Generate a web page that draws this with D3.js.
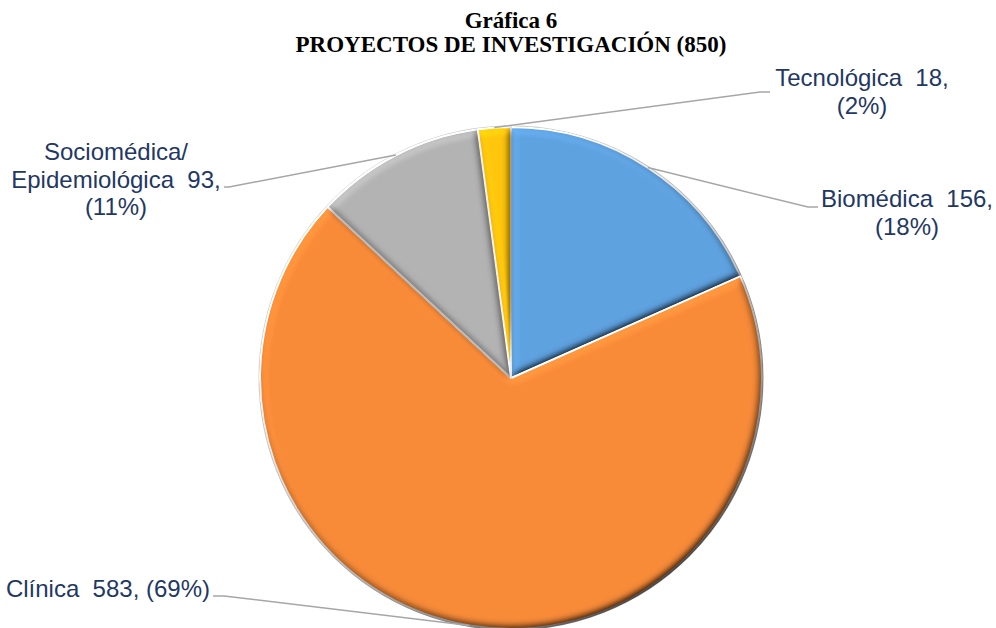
<!DOCTYPE html>
<html lang="es">
<head>
<meta charset="utf-8">
<title>Gráfica 6</title>
<script src="https://cdn.jsdelivr.net/npm/d3@7"></script>
<style>
  body { margin: 0; background: #fff; }
  .title { font-family: "Liberation Serif", "Times New Roman", serif; font-weight: bold; font-size: 23px; fill: #000; }
  .label { font-family: "Liberation Sans", Arial, sans-serif; font-size: 24px; fill: #1f3864; white-space: pre; }
  .leader { fill: none; stroke: #a6a6a6; stroke-width: 1.5px; }
  .slice { stroke: #fff; stroke-width: 2px; stroke-linejoin: round; }
</style>
</head>
<body>
<div id="chart"></div>
<script>
// data
var categories = ["Biomédica", "Clínica", "Sociomédica/Epidemiológica", "Tecnológica"];
var values = [156, 583, 93, 18];
var percents = ["(18%)", "(69%)", "(11%)", "(2%)"];
var colors = ["#5fa2e0", "#f78b39", "#b3b3b3", "#ffc60a"];
var titleLines = ["Gráfica 6", "PROYECTOS DE INVESTIGACIÓN (850)"];

// label text lines, built from the data
var labelLines = [
  [categories[0] + "  " + values[0] + ",", percents[0]],
  [categories[1] + "  " + values[1] + ", " + percents[1]],
  ["Sociomédica/", "Epidemiológica  " + values[2] + ",", percents[2]],
  [categories[3] + "  " + values[3] + ",", percents[3]]
];

// label placement (x, first baseline, anchor, leader elbow and end)
var labelPos = [
  {x: 907, y: 207, anchor: "middle", elbow: [808, 207], end: [818, 207]},
  {x: 210, y: 597, anchor: "end", elbow: [224, 596], end: [213, 596]},
  {x: 116, y: 160, anchor: "middle", elbow: [229, 187], end: [224, 187]},
  {x: 862, y: 86, anchor: "middle", elbow: [760, 92], end: [770, 92]}
];

var width = 996, height = 628,
    cx = 511, cy = 378, radius = 251,
    lineH = 27.5;

var svg = d3.select("#chart").append("svg")
    .attr("width", width)
    .attr("height", height);

var defs = svg.append("defs");

// soft bevel on every slice, light from the top left
var bevel = defs.append("filter")
    .attr("id", "bevel")
    .attr("x", "-10%").attr("y", "-10%")
    .attr("width", "120%").attr("height", "120%");
bevel.append("feGaussianBlur")
    .attr("in", "SourceAlpha")
    .attr("stdDeviation", 4)
    .attr("result", "blur");
bevel.append("feDiffuseLighting")
    .attr("in", "blur")
    .attr("surfaceScale", 7)
    .attr("diffuseConstant", 1)
    .attr("lighting-color", "#fff")
    .attr("result", "diff")
  .append("feDistantLight")
    .attr("azimuth", 235)
    .attr("elevation", 55);
bevel.append("feComposite")
    .attr("in", "SourceGraphic")
    .attr("in2", "diff")
    .attr("operator", "arithmetic")
    .attr("k1", 1.22).attr("k2", 0).attr("k3", 0).attr("k4", 0)
    .attr("result", "lit");
bevel.append("feComposite")
    .attr("in", "lit")
    .attr("in2", "SourceAlpha")
    .attr("operator", "in");

var edge = defs.append("linearGradient")
    .attr("id", "edge")
    .attr("gradientUnits", "userSpaceOnUse")
    .attr("x1", cx - radius).attr("y1", cy - radius)
    .attr("x2", cx + radius).attr("y2", cy + radius);
edge.append("stop").attr("offset", "0").attr("stop-color", "#e6e6e6");
edge.append("stop").attr("offset", "0.45").attr("stop-color", "#b8b8b8");
edge.append("stop").attr("offset", "1").attr("stop-color", "#5a4a40");

// title
svg.append("g").selectAll("text")
    .data(titleLines)
  .enter().append("text")
    .attr("class", "title")
    .attr("x", cx)
    .attr("y", function(d, i) { return 28 + i * 24; })
    .attr("text-anchor", "middle")
    .text(function(d) { return d; });

var pie = d3.pie().sort(null).value(function(d) { return d; });
var arcs = pie(values);

var arc = d3.arc().innerRadius(0).outerRadius(radius);
var outerArc = d3.arc().innerRadius(radius).outerRadius(radius);

svg.append("circle")
    .attr("cx", cx).attr("cy", cy).attr("r", radius + 0.5)
    .attr("fill", "none")
    .attr("stroke", "url(#edge)")
    .attr("stroke-width", 2);

var g = svg.append("g")
    .attr("transform", "translate(" + cx + "," + cy + ")");

g.selectAll("path.slice")
    .data(arcs)
  .enter().append("path")
    .attr("class", "slice")
    .attr("fill", function(d, i) { return colors[i]; })
    .attr("filter", "url(#bevel)")
    .attr("d", arc);

// leader lines
svg.append("g").selectAll("polyline")
    .data(arcs)
  .enter().append("polyline")
    .attr("class", "leader")
    .attr("points", function(d, i) {
      var p = outerArc.centroid(d);
      var s = [cx + p[0], cy + p[1]];
      return [s, labelPos[i].elbow, labelPos[i].end].map(function(q) { return q.join(","); }).join(" ");
    });

// labels
var labels = svg.append("g").selectAll("text")
    .data(arcs)
  .enter().append("text")
    .attr("class", "label")
    .attr("text-anchor", function(d, i) { return labelPos[i].anchor; });

labels.each(function(d, i) {
  var t = d3.select(this);
  labelLines[i].forEach(function(line, j) {
    t.append("tspan")
      .attr("x", labelPos[i].x)
      .attr("y", labelPos[i].y + j * lineH)
      .text(line);
  });
});
</script>
</body>
</html>
